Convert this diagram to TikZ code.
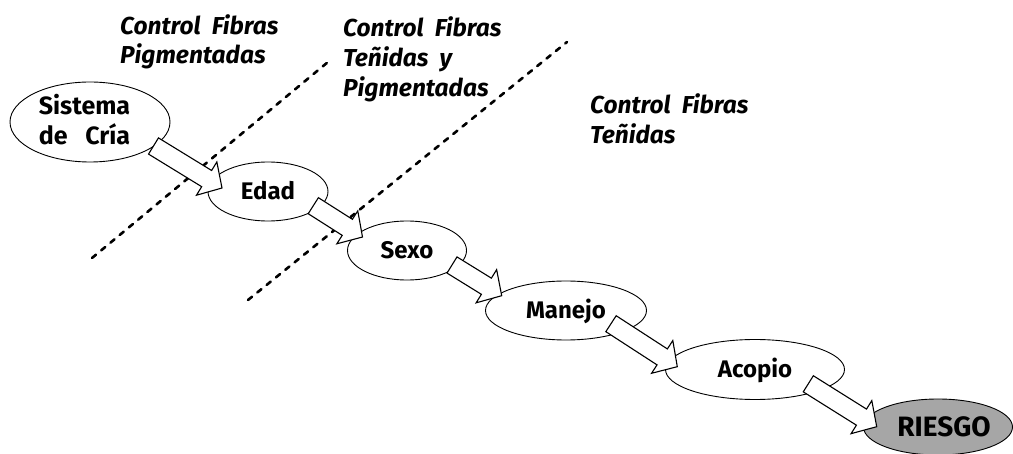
\documentclass[tikz,border=0pt]{standalone}
\usepackage{fontspec}
\setmainfont{Fira Sans}
\usetikzlibrary{calc,shapes.geometric}
\tikzset{
  ell/.style={ellipse, draw, line width=0.9pt, fill=white, inner sep=0pt},
  ntxt/.style={font=\fontsize{24}{30}\selectfont\bfseries, text height=16.5pt, text depth=0pt, inner sep=0pt},
  lab/.style={font=\fontsize{24.5}{30}\selectfont\bfseries\itshape, anchor=base west, inner sep=0pt},
  divider/.style={dash pattern=on 5.2pt off 6.8pt, line width=2.6pt, line cap=round},
  fatarrow/.style={draw, fill=white, line width=1.1pt, line join=miter},
}
\newcommand\fatarr[2]{%
  \coordinate (#1h) at ($(#2)!18pt!(#1)$);
  \draw[fatarrow] ($(#1)!9.5pt!90:(#2)$) -- ($(#1h)!9.5pt!90:(#2)$) -- ($(#1h)!19.5pt!90:(#2)$) -- (#2)
     -- ($(#1h)!19.5pt!-90:(#2)$) -- ($(#1h)!9.5pt!-90:(#2)$) -- ($(#1)!9.5pt!-90:(#2)$) -- cycle;}
\begin{document}
\begin{tikzpicture}[x=1pt,y=-1pt]
\useasboundingbox (0,0) rectangle (1013,454);
% dividers
\coordinate (d1a) at (92,258);
\coordinate (d1b) at (328,62);
\coordinate (d2a) at (248,300);
\coordinate (d2b) at (567,42);
\draw[divider] (d1a) -- (d1b);
\draw[divider] (d2a) -- (d2b);
% labels
\node[lab] (l1a) at (120,35) {Control\ \ Fibras};
\node[lab] (l1b) at (120,64) {Pigmentadas};
\node[lab] (l2a) at (343,36.7) {Control\ \ Fibras};
\node[lab] (l2b) at (343,66.7) {Teñidas\ \ y};
\node[lab] (l2c) at (343,96.7) {Pigmentadas};
\node[lab] (l3a) at (590,113.3) {Control\ \ Fibras};
\node[lab] (l3b) at (590,143.3) {Teñidas};
% ellipses
\node[ell, minimum width=160pt, minimum height=80pt] (sis) at (90,122) {};
\node[ntxt, font=\fontsize{25}{30}\selectfont\bfseries, text height=, text depth=] (sistxt) at (84.5,124) {\begin{tabular}{@{}l@{}}Sistema\\ de\hfill Cría\end{tabular}};
\node[ell, ntxt, minimum width=120pt, minimum height=59pt] (edad) at (268,191.5) {Edad};
\node[ell, ntxt, minimum width=119pt, minimum height=59pt] (sexo) at (407,250.5) {Sexo};
\node[ell, ntxt, minimum width=161pt, minimum height=59pt] (manejo) at (566,310.5) {Manejo};
\node[ell, ntxt, minimum width=179pt, minimum height=60pt] (acopio) at (755,369.5) {Acopio};
\node[ell, ntxt, font=\fontsize{28}{30}\selectfont\bfseries, text height=19pt, fill=black!35, minimum width=146pt, minimum height=56pt] (riesgo) at (938,427) {\hspace*{12pt}RIESGO};
% arrow ends
\coordinate (t1) at ($(sis)+(63.5,24)$);
\coordinate (h1) at ($(edad)+(-46,-3.5)$);
\coordinate (t2) at ($(edad)+(45.3,14.2)$);
\coordinate (h2) at ($(sexo)+(-44.5,-13.5)$);
\coordinate (t3) at ($(sexo)+(45,14.5)$);
\coordinate (h3) at ($(manejo)+(-64.3,-14.8)$);
\coordinate (t4) at ($(manejo)+(45,13.2)$);
\coordinate (h4) at ($(acopio)+(-77.7,-2.8)$);
\coordinate (t5) at ($(acopio)+(53.3,14.3)$);
\coordinate (h5) at ($(riesgo)+(-61.3,-0.3)$);
\fatarr{t1}{h1}
\fatarr{t2}{h2}
\fatarr{t3}{h3}
\fatarr{t4}{h4}
\fatarr{t5}{h5}
\end{tikzpicture}
\end{document}
